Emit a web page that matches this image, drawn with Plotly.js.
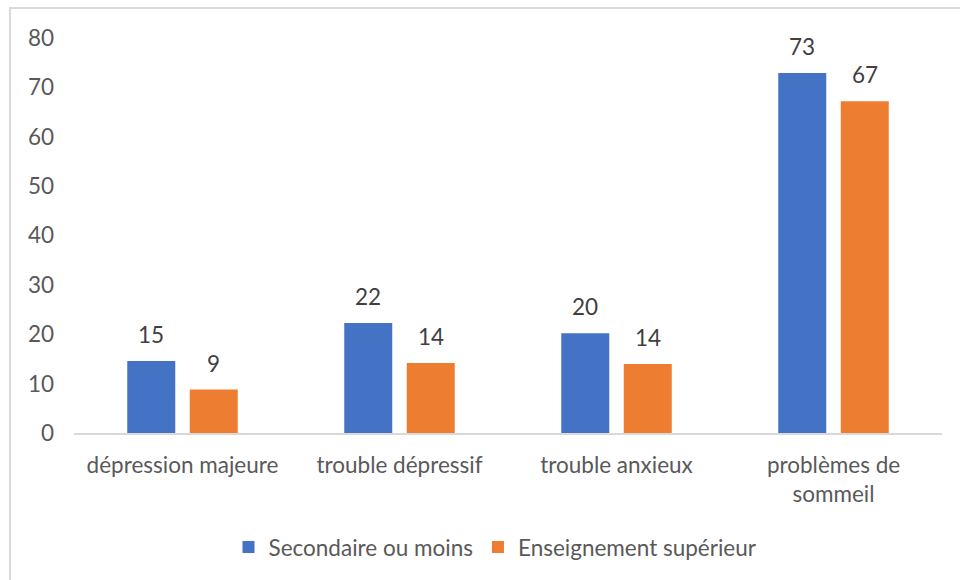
<!DOCTYPE html>
<html>
<head>
<meta charset="utf-8">
<script src="https://cdn.plot.ly/plotly-3.0.1.min.js"></script>
<style>
  html, body { margin: 0; padding: 0; background: #ffffff; }
  #wrap { position: relative; width: 960px; height: 580px; overflow: hidden; }
  #frame { position: absolute; left: 9px; top: 7px; width: 960px; height: 600px; border: 2px solid #d9d9d9; box-sizing: border-box; }
  #chart { position: absolute; left: 0; top: 0; width: 960px; height: 580px; }
</style>
</head>
<body>
<div id="wrap">
  <div id="frame"></div>
  <div id="chart"></div>
</div>
<script>
const categories = ["dépression majeure", "trouble dépressif", "trouble anxieux", "problèmes de<br>sommeil"];
const seriesNames = ["Secondaire ou moins", "Enseignement supérieur"];
const secondaire = [14.6, 22.3, 20.2, 72.9];
const superieur = [8.8, 14.2, 14.0, 67.2];
const yTicks = [0, 10, 20, 30, 40, 50, 60, 70, 80];

const colors = ["#4472c4", "#ed7d31"];
const FONT = "Lato, 'Open Sans', sans-serif";
const FS = 22.5;
const allSeries = [secondaire, superieur];

const traces = allSeries.map((vals, i) => ({
  type: "bar",
  name: seriesNames[i],
  x: categories,
  y: vals,
  marker: { color: colors[i] },
  hoverinfo: "x+y+name"
}));

const annotations = [];
allSeries.forEach((vals, i) => {
  vals.forEach((v, j) => {
    annotations.push({
      x: categories[j], y: v, xref: "x", yref: "y",
      text: String(Math.round(v)),
      showarrow: false,
      xshift: (i === 0 ? -31.25 : 31.25),
      yanchor: "bottom",
      yshift: 11,
      font: { family: FONT, size: FS, color: "#404040" }
    });
  });
});

const layout = {
  width: 960, height: 580,
  margin: { l: 74, r: 18, t: 37.5, b: 145.5, pad: 0 },
  paper_bgcolor: "rgba(0,0,0,0)",
  plot_bgcolor: "rgba(0,0,0,0)",
  barmode: "group",
  bargap: 0.424,
  bargroupgap: 0.232,
  font: { family: FONT, size: FS, color: "#595959" },
  xaxis: {
    type: "category",
    showline: true, linecolor: "#d9d9d9", linewidth: 2,
    showgrid: false, zeroline: false, ticks: "",
    ticklabelstandoff: 11,
    tickfont: { family: FONT, size: FS, color: "#595959" }
  },
  yaxis: {
    range: [0, 80],
    tickvals: yTicks,
    ticktext: yTicks.map(String),
    showgrid: false, zeroline: false, showline: false, ticks: "",
    ticklabelstandoff: 19,
    tickfont: { family: FONT, size: FS, color: "#595959" }
  },
  legend: {
    orientation: "h",
    x: 0.4856, xanchor: "center",
    y: -0.286, yanchor: "middle",
    font: { family: FONT, size: FS, color: "#595959" },
    bgcolor: "rgba(0,0,0,0)"
  },
  annotations: annotations,
  showlegend: true
};

Plotly.newPlot("chart", traces, layout, { displayModeBar: false, staticPlot: true });
</script>
</body>
</html>
